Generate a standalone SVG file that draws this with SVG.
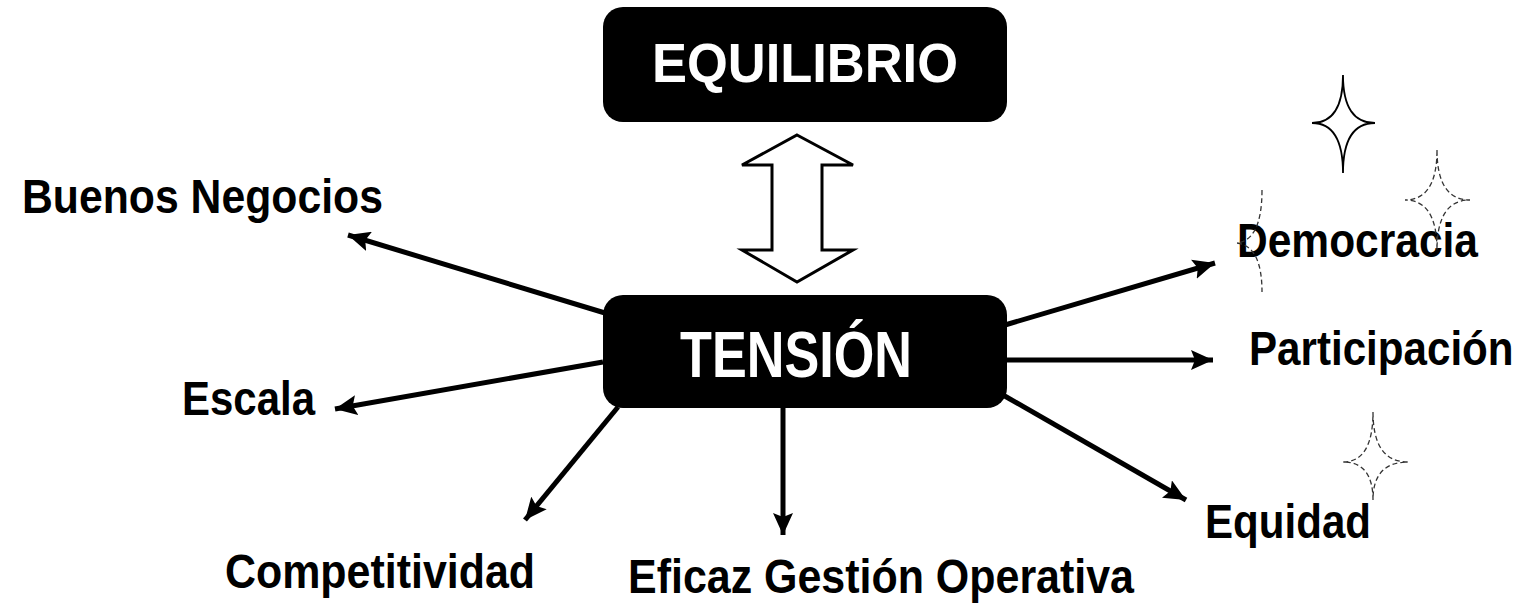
<svg xmlns="http://www.w3.org/2000/svg" width="1526" height="603" viewBox="0 0 1526 603">
<defs>
<style>
.box{fill:#000;}
.title{font-family:"Liberation Sans",Arial,sans-serif;font-weight:bold;fill:#fff;}
.lbl{font-family:"Liberation Sans",Arial,sans-serif;font-weight:bold;fill:#000;font-size:49px;}
.conn{stroke:#000;stroke-width:5;fill:none;marker-end:url(#ah);}
.star{fill:none;stroke:#000;stroke-width:1.8;}
.starf{fill:none;stroke:#333;stroke-width:1.3;stroke-dasharray:5 3;}
</style>
<marker id="ah" markerUnits="userSpaceOnUse" markerWidth="24" markerHeight="20" refX="22" refY="10" orient="auto" viewBox="0 0 24 20">
<path d="M0,0 L22,10 L0,20 L4,10 Z" fill="#000"/>
</marker>
</defs>
<rect width="1526" height="603" fill="#fff"/>

<g id="equilibrio">
<rect class="box" x="603" y="7" width="404" height="115" rx="20" ry="20"/>
<text class="title" x="652" y="82" font-size="55" textLength="306" lengthAdjust="spacingAndGlyphs">EQUILIBRIO</text>
</g>

<g id="double-arrow">
<path d="M797,135 L853,165 L822,165 L822,250 L853,250 L797,282 L742,250 L772,250 L772,165 L742,165 Z" fill="#fff" stroke="#000" stroke-width="3" stroke-linejoin="miter"/>
</g>

<g id="tension">
<rect class="box" x="603" y="295" width="404" height="113" rx="20" ry="20"/>
<text class="title" x="680" y="377" font-size="65" textLength="232" lengthAdjust="spacingAndGlyphs">TENSIÓN</text>
</g>

<g id="connectors">
<line class="conn" x1="605" y1="313" x2="348" y2="235"/>
<line class="conn" x1="603" y1="362" x2="335" y2="409"/>
<line class="conn" x1="618" y1="407" x2="525" y2="520"/>
<line class="conn" x1="783" y1="408" x2="783" y2="535"/>
<line class="conn" x1="1005" y1="325" x2="1215" y2="263"/>
<line class="conn" x1="1007" y1="360" x2="1213" y2="360"/>
<line class="conn" x1="1003" y1="395" x2="1186" y2="500"/>
</g>

<g id="buenos-negocios"><text class="lbl" x="22" y="213" textLength="361" lengthAdjust="spacingAndGlyphs">Buenos Negocios</text></g>
<g id="escala"><text class="lbl" x="182" y="415" textLength="133" lengthAdjust="spacingAndGlyphs">Escala</text></g>
<g id="competitividad"><text class="lbl" x="225" y="588" textLength="310" lengthAdjust="spacingAndGlyphs">Competitividad</text></g>
<g id="eficaz"><text class="lbl" x="628" y="593" textLength="506" lengthAdjust="spacingAndGlyphs">Eficaz Gestión Operativa</text></g>
<g id="democracia"><text class="lbl" x="1237" y="257" textLength="241" lengthAdjust="spacingAndGlyphs">Democracia</text></g>
<g id="participacion"><text class="lbl" transform="translate(1249,365) scale(0.86,1)">Participación</text></g>
<g id="equidad"><text class="lbl" x="1205" y="538" textLength="166" lengthAdjust="spacingAndGlyphs">Equidad</text></g>

<g id="stars">
<path class="star" d="M1343,75 Q1343,123 1375,123 Q1343,123 1343,173 Q1343,123 1312,123 Q1343,123 1343,75 Z"/>
<path class="starf" d="M1437,150 Q1437,200 1470,200 Q1437,200 1437,250 Q1437,200 1405,200 Q1437,200 1437,150 Z"/>
<path class="starf" d="M1262,190 Q1262,240 1237,243 Q1262,246 1262,292"/>
<path class="starf" d="M1373,412 Q1373,462 1408,462 Q1373,462 1373,500 Q1373,462 1343,462 Q1373,462 1373,412 Z"/>
</g>
</svg>
